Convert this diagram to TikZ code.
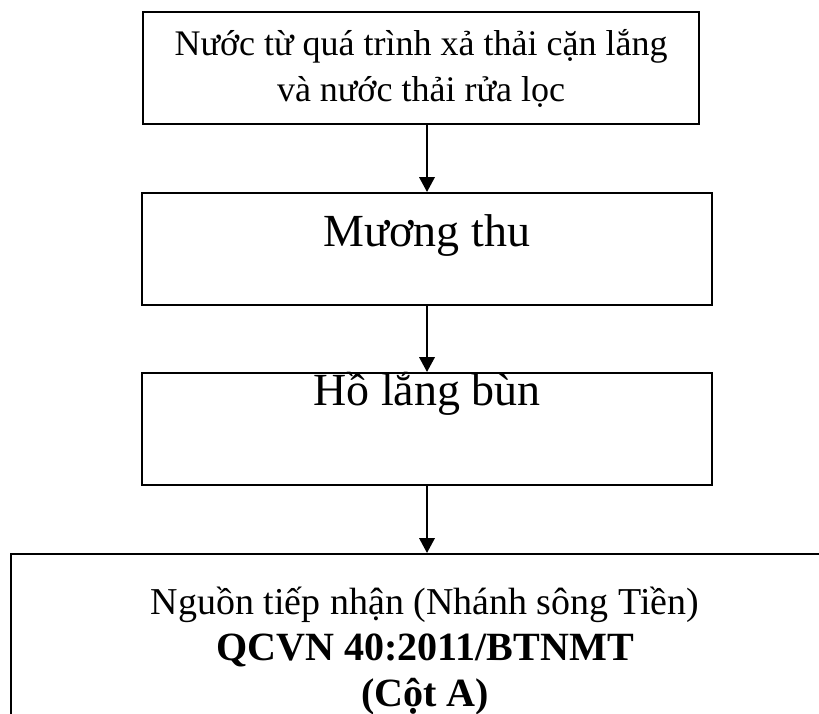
\documentclass[tikz,border=0pt]{standalone}
\usepackage{fontspec}
\setmainfont{Liberation Serif}
\usetikzlibrary{arrows.meta}

\tikzset{
  box/.style={draw=black, line width=1.4pt, inner sep=0pt},
  txt/.style={font=\fontsize{25.6}{32.7}\selectfont, align=center},
  bigtxt/.style={font=\fontsize{32.7}{40}\selectfont, align=center},
  flow/.style={line width=1.4pt, -{Triangle[length=10.6pt, width=11pt]}}
}
\newcommand{\qcvnfont}{\fontsize{28.5}{32.7}\selectfont\bfseries}

\begin{document}
\begin{tikzpicture}[x=0.025cm, y=-0.025cm]
\useasboundingbox (0,0) rectangle (819,714);
\clip (0,0) rectangle (819,714);

% boxes
\node[box, txt, minimum width=13.9cm, minimum height=2.8cm] (src) at (421,68)
    {Nước từ quá trình xả thải cặn lắng\\và nước thải rửa lọc};
\node[box, minimum width=14.25cm, minimum height=2.8cm] (ditch) at (427,249) {};
\node[box, minimum width=14.25cm, minimum height=2.8cm] (pond) at (427,429) {};
\node[box, minimum width=20.7cm, minimum height=6.15cm] (river) at (425,677) {};

% texts
\node[bigtxt, anchor=base] (ditchtxt) at (427,247) {Mương thu};
\node[bigtxt, anchor=base] (pondtxt) at (427,405) {Hồ lắng bùn};
\node[txt, font=\fontsize{27}{32.7}\selectfont, anchor=base] (rivertxt) at (425,706)
    {Nguồn tiếp nhận (Nhánh sông Tiền)\\{\qcvnfont QCVN 40:2011/BTNMT}\\{\qcvnfont (Cột A)}};

% arrows
\draw[flow] (src.south -| ditch.north) -- (ditch.north);
\draw[flow] (ditch.south) -- (pond.north);
\draw[flow] (pond.south) -- (pond.south |- river.north);
\end{tikzpicture}
\end{document}
